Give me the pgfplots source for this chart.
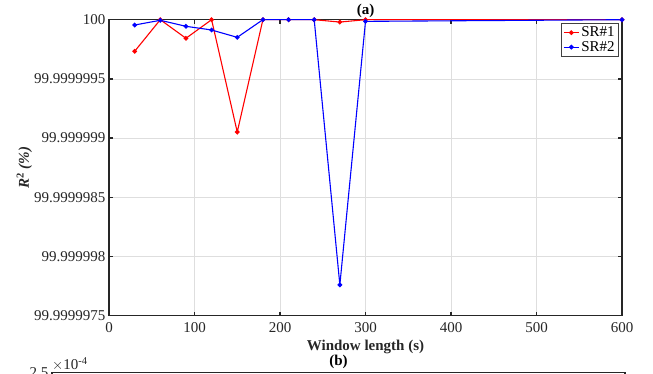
\documentclass[border=0pt]{standalone}
\usepackage{fontspec}
\setmainfont{Liberation Serif}
\usepackage{pgfplots}
\pgfplotsset{compat=1.18}
\definecolor{axgray}{RGB}{38,38,38}
\definecolor{gridgray}{RGB}{222,222,222}
\definecolor{legframe}{RGB}{64,64,64}
% Values of R^2 are stored as deviations from 100 %, in units of 1e-8 %,
% i.e. R^2 = 100 + y*1e-8 (%), because TeX arithmetic cannot resolve 1e-9 near 100.
\pgfplotstableread{
x     y
30   -2.67
60    0
90   -1.57
120   0
150  -9.49
180   0
210   0
240   0
270  -0.20
300   0
600   0
}\srone
\pgfplotstableread{
x     y
30   -0.45
60   -0.05
90   -0.56
120  -0.87
150  -1.49
180   0
210   0
240   0
270  -22.40
300  -0.14
600   0
}\srtwo
\begin{document}
\begin{tikzpicture}[x=1pt,y=1pt]
\pgfplotsset{every axis/.append style={font=\fontsize{15}{17}\selectfont},
  /pgf/number format/assume math mode=true}
\begin{axis}[
  at={(109pt,58.3pt)}, anchor=south west,
  width=513pt, height=296pt, scale only axis,
  xmin=0, xmax=600, ymin=-25, ymax=0,
  xtick={0,100,...,600},
  ytick={-25,-20,...,0},
  yticklabels={99.9999975,99.999998,99.9999985,99.999999,99.9999995,100},
  tick align=inside, major tick length=4pt,
  grid=major, grid style={gridgray, line width=0.7pt},
  axis line style={axgray, line width=1.4pt},
  tick style={axgray, line width=1.3pt},
  xticklabel style={text=axgray, yshift=-3pt},
  yticklabel style={text=axgray},
  xlabel={\textbf{Window length (s)}},
  xlabel style={at={(axis description cs:0.5,-0.105)}, anchor=center, text=axgray},
  ylabel={\textbf{\textit{R}\textsuperscript{2} \textit{(\%)}}},
  ylabel style={at={(axis description cs:-0.165,0.5)}, anchor=center, text=axgray},
  title={\textbf{(a)}},
  title style={at={(axis description cs:0.5,1)}, anchor=center, yshift=3pt},
  legend style={at={(axis description cs:0.9936,0.989)}, anchor=north east,
    draw=legframe, line width=1pt, inner sep=1.5pt, row sep=-1pt,
    font=\fontsize{15}{16}\selectfont},
  legend cell align=left,
  legend image code/.code={\draw[#1] (0pt,0pt) -- (15pt,0pt); \draw[#1,mark repeat=1] plot coordinates {(7.5pt,0pt)};},
]
\addplot[red, line width=1.1pt, mark=*, mark size=1.8pt] table[x=x,y=y] {\srone};
\addlegendentry{SR\#1}
\addplot[blue, line width=1.1pt, mark=*, mark size=1.8pt] table[x=x,y=y] {\srtwo};
\addlegendentry{SR\#2}
\end{axis}
\begin{axis}[
  at={(52pt,1.7pt)}, anchor=north west,
  width=573pt, height=250pt, scale only axis, clip=false,
  xmin=0, xmax=600, ymin=0, ymax=2.5e-4,
  xtick=\empty, ytick={2.5e-4}, yticklabels={2.5}, scaled y ticks=false,
  tick align=inside, major tick length=4pt,
  axis line style={axgray, line width=1.4pt},
  tick style={axgray, line width=1.3pt},
  yticklabel style={text=axgray},
  title={\textbf{(b)}},
  title style={at={(axis description cs:0.5,1)}, anchor=center, yshift=4pt},
]
\node[anchor=south west, inner sep=0pt, text=axgray] at (rel axis cs:0,1) [yshift=1.5pt] {$\times$10\textsuperscript{-4}};
\end{axis}
\pgfresetboundingbox
\useasboundingbox (0,0) rectangle (653,374);
\end{tikzpicture}
\end{document}
